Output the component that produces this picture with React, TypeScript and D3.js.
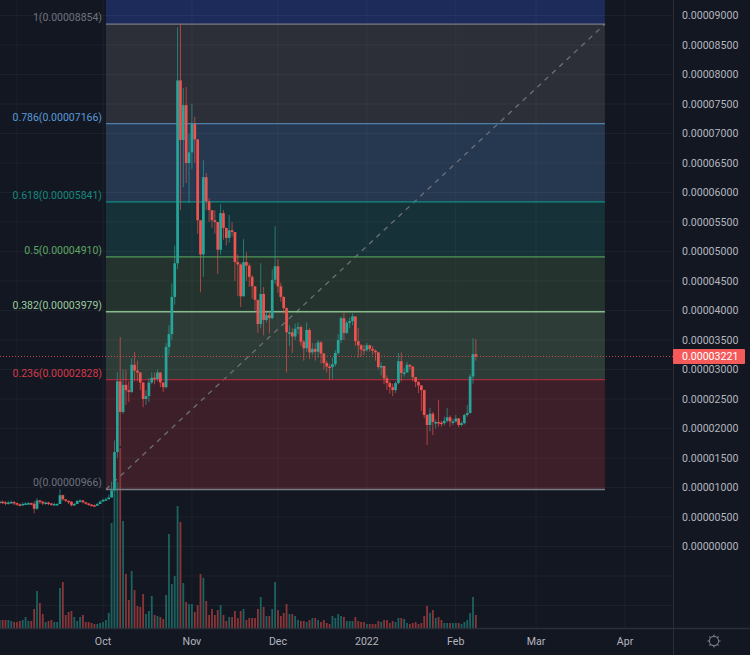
import React from 'react';
import * as d3 from 'd3';

// prices are in units of 0.00000001, one entry per day from firstDay
const firstDay = new Date(2021, 7, 26);
const closes = [
  760, 750, 730, 745, 755, 735, 715, 700, 720, 730,
  735, 725, 640, 780, 760, 730, 745, 730, 715, 720,
  720, 870, 800, 775, 760, 700, 720, 770, 780, 750,
  730, 710, 700, 690, 720, 760, 790, 800, 830, 950,
  1600, 2800, 2280, 2740, 2650, 2620, 3080, 2980, 2950, 2780,
  2500, 2550, 2780, 2860, 2840, 2950, 2780, 2700, 3380, 3600,
  4230, 4800, 7900, 6890, 7480, 6500, 6680, 7160, 6900, 5530,
  4950, 6260, 5850, 5700, 5530, 5500, 5030, 5650, 5400, 5230,
  5360, 5330, 4820, 4780, 4240, 4820, 4760, 4570, 4410, 4180,
  3770, 4280, 3840, 3920, 3870, 4520, 4750, 4410, 4230, 4040,
  3630, 3630, 3560, 3690, 3720, 3470, 3360, 3670, 3290, 3350,
  3300, 3460, 3270, 3110, 3050, 3040, 3090, 3280, 3500, 3870,
  3620, 3790, 3820, 3900, 3480, 3410, 3340, 3330, 3410, 3350,
  3320, 3290, 3040, 3060, 2850, 2770, 2700, 2650, 2770, 3140,
  2940, 2950, 3080, 3050, 2870, 2790, 2730, 2650, 2230, 2060,
  2250, 2110, 2110, 2100, 2090, 2130, 2190, 2120, 2120, 2170,
  2060, 2090, 2230, 2260, 2880, 3260, 3221,
];
const highs = [
  790, 780, 770, 770, 780, 770, 745, 730, 750, 750,
  755, 745, 770, 820, 790, 770, 760, 760, 735, 745,
  735, 970, 880, 800, 780, 765, 740, 790, 800, 790,
  750, 730, 720, 710, 740, 780, 810, 830, 880, 1100,
  1800, 2950, 3550, 3000, 3000, 2800, 3190, 3300, 3150, 2950,
  2780, 2650, 2850, 2950, 2950, 3000, 2950, 2780, 3450, 3750,
  4460, 5100, 8800, 8854, 7770, 7790, 7000, 7500, 7280, 6900,
  5300, 6550, 6330, 5900, 5650, 5700, 5500, 5800, 5700, 5400,
  5620, 5500, 5330, 4950, 4800, 5210, 4990, 4800, 4600, 4400,
  4180, 4800, 4400, 4000, 4000, 4700, 5430, 4870, 4470, 4240,
  4050, 3750, 3700, 3780, 3800, 3750, 3500, 3800, 3700, 3450,
  3450, 3500, 3480, 3280, 3150, 3100, 3200, 3330, 3600, 3900,
  3970, 3830, 3880, 3950, 3900, 3700, 3430, 3420, 3450, 3420,
  3400, 3340, 3300, 3120, 3060, 2900, 2800, 2760, 2800, 3280,
  3290, 3020, 3130, 3080, 3060, 2870, 2800, 2730, 2660, 2240,
  2350, 2280, 2150, 2480, 2130, 2200, 2350, 2220, 2160, 2230,
  2180, 2120, 2250, 2400, 2920, 3530, 3520,
];
const lows = [
  730, 720, 700, 710, 720, 700, 690, 680, 700, 700,
  710, 700, 560, 620, 720, 700, 710, 700, 690, 700,
  700, 720, 770, 750, 720, 680, 690, 750, 750, 730,
  710, 690, 680, 680, 700, 740, 770, 780, 800, 900,
  950, 1500, 1700, 2250, 2400, 2450, 2600, 2800, 2800, 2650,
  2360, 2400, 2450, 2750, 2750, 2800, 2700, 2620, 2680, 3250,
  3500, 4100, 4700, 5700, 6090, 6160, 5820, 6400, 6500, 5300,
  4310, 4570, 5700, 5500, 5400, 5300, 4620, 4950, 5200, 5100,
  5150, 5250, 4500, 4250, 4060, 4240, 4500, 4400, 4200, 4000,
  3620, 3700, 3580, 3800, 3610, 3850, 4450, 4300, 4150, 3950,
  2950, 3400, 3280, 3500, 3600, 3400, 3150, 3300, 3180, 3250,
  3150, 3200, 3100, 3000, 2950, 2820, 2840, 3050, 3250, 3450,
  3500, 3600, 3700, 3750, 3400, 3200, 3220, 3250, 3300, 3300,
  3250, 3150, 3000, 2900, 2750, 2650, 2590, 2550, 2600, 2750,
  2800, 2880, 2950, 3000, 2800, 2700, 2600, 2300, 2180, 1720,
  1950, 1890, 2000, 2030, 2030, 2050, 2100, 2030, 2060, 2100,
  2020, 2040, 2070, 2200, 2750, 2760, 3150,
];
const volumes = [
  8, 8, 8, 8, 7, 6, 6, 7, 8, 11,
  7, 7, 19, 37, 25, 14, 6, 7, 8, 6,
  6, 40, 46, 13, 16, 17, 11, 7, 11, 13,
  6, 6, 5, 4, 4, 5, 6, 8, 15, 105,
  165, 146, 180, 107, 54, 28, 57, 38, 22, 21,
  34, 14, 17, 32, 13, 12, 11, 9, 33, 94,
  44, 52, 122, 106, 45, 26, 24, 24, 16, 23,
  54, 50, 27, 13, 19, 13, 18, 23, 13, 7,
  11, 11, 17, 10, 17, 19, 8, 10, 10, 10,
  19, 31, 21, 12, 12, 19, 46, 18, 12, 15,
  24, 14, 14, 12, 8, 7, 7, 6, 8, 10,
  10, 8, 6, 8, 5, 4, 12, 10, 14, 12,
  11, 7, 7, 7, 11, 7, 6, 6, 4, 4,
  4, 4, 7, 6, 8, 8, 5, 7, 6, 10,
  10, 9, 5, 4, 5, 6, 4, 5, 12, 22,
  15, 18, 10, 11, 8, 5, 5, 5, 5, 5,
  5, 4, 6, 8, 15, 31, 13,
];
const firstOpen = 750;
const lastPrice = 3221;

const fibRatios = [1, 0.786, 0.618, 0.5, 0.382, 0.236, 0];
const fibPrices = [8854, 7166, 5841, 4910, 3979, 2828, 966];
const fibLineColors = ['#787b86', '#4f7fa8', '#0f8f84', '#4f9a58', '#86bd8c', '#a52a3a', '#787b86'];
const fibTextColors = ['#6f727c', '#5a9bd8', '#128a7e', '#5fa765', '#9ccc9f', '#d63a4a', '#6f727c'];
const fibFills = ['#2c2f37', '#263750', '#163238', '#24332d', '#2e3c37', '#3d1f29'];
const fibStart = new Date(2021, 9, 2);
const fibEnd = new Date(2022, 2, 25);

const priceTicks = d3.range(0, 9001, 500);
const gridOnlyTicks = [-500, -1000];
const gridDates = [new Date(2021, 8, 1), new Date(2021, 9, 1), new Date(2021, 10, 1), new Date(2021, 11, 1), new Date(2022, 0, 1), new Date(2022, 1, 1), new Date(2022, 2, 1), new Date(2022, 3, 1)];
const timeLabels = ['', 'Oct', 'Nov', 'Dec', '2022', 'Feb', 'Mar', 'Apr'];

const WIDTH = 750;
const HEIGHT = 655;
const PLOT_RIGHT = 673;
const PLOT_BOTTOM = 628;
const FONT = 'Roboto, sans-serif';
const UP = '#26a69a';
const DOWN = '#ef5350';

const x = d3.scaleTime()
  .domain([new Date(2021, 9, 1), new Date(2022, 3, 1)])
  .range([103, 625]);
const y = d3.scaleLinear().domain([0, 9000]).range([546.5, 15.5]);
const yVolume = d3.scaleLinear().domain([0, 180]).range([PLOT_BOTTOM, PLOT_BOTTOM - 180]);

const fmt = (v: number) => (v / 1e8).toFixed(8);

const candles = closes.map((close, i) => ({
  date: d3.timeDay.offset(firstDay, i),
  open: i === 0 ? firstOpen : closes[i - 1],
  close,
  high: highs[i],
  low: lows[i],
  volume: volumes[i],
}));

const sunRays = d3.range(0, 360, 45);

export default function App() {
  const fibX0 = x(fibStart);
  const fibX1 = x(fibEnd);

  return (
    <div style={{ position: 'absolute', left: 0, top: 0 }}>
      <svg width={WIDTH} height={HEIGHT} style={{ display: 'block', background: '#131722' }} fontFamily={FONT}>
        {/* Fib bands */}
        <rect x={fibX0} y={0} width={fibX1 - fibX0} height={y(fibPrices[0])} fill="#1c2b5a" />
        {fibFills.map((fill, i) => (
          <rect
            key={i}
            x={fibX0}
            y={y(fibPrices[i])}
            width={fibX1 - fibX0}
            height={y(fibPrices[i + 1]) - y(fibPrices[i])}
            fill={fill}
          />
        ))}

        {/* Grid */}
        {[...priceTicks, ...gridOnlyTicks].map((t) => (
          <line key={t} x1={0} x2={PLOT_RIGHT} y1={y(t)} y2={y(t)} stroke="#fff" strokeOpacity={0.04} />
        ))}
        {gridDates.map((d, i) => (
          <line key={i} x1={x(d)} x2={x(d)} y1={0} y2={PLOT_BOTTOM} stroke="#fff" strokeOpacity={0.04} />
        ))}

        {/* Volume */}
        {candles.map((c, i) => (
          <rect
            key={i}
            x={x(c.date) - 0.9}
            y={yVolume(c.volume)}
            width={1.8}
            height={PLOT_BOTTOM - yVolume(c.volume)}
            fill={c.close >= c.open ? '#1c625f' : '#8a3638'}
          />
        ))}

        {/* Fib lines and labels */}
        <line
          x1={fibX0}
          x2={fibX1}
          y1={y(fibPrices[6])}
          y2={y(fibPrices[0])}
          stroke="#6d7078"
          strokeWidth={1.3}
          strokeDasharray="5 5"
        />
        {fibRatios.map((r, i) => (
          <g key={r}>
            <line
              x1={fibX0}
              x2={fibX1}
              y1={y(fibPrices[i])}
              y2={y(fibPrices[i])}
              stroke={fibLineColors[i]}
              strokeWidth={1.3}
            />
            <text
              x={102}
              y={y(fibPrices[i]) - 1}
              dy="-0.2em"
              textAnchor="end"
              fontSize={10.5}
              fill={fibTextColors[i]}
            >
              {`${r}(${fmt(fibPrices[i])})`}
            </text>
          </g>
        ))}

        {/* Candles */}
        {candles.map((c, i) => {
          const color = c.close >= c.open ? UP : DOWN;
          const top = y(Math.max(c.open, c.close));
          const bottom = y(Math.min(c.open, c.close));
          return (
            <g key={i}>
              <line x1={x(c.date)} x2={x(c.date)} y1={y(c.high)} y2={y(c.low)} stroke={color} strokeOpacity={0.65} />
              <rect x={x(c.date) - 1.35} y={top} width={2.7} height={Math.max(bottom - top, 1.5)} fill={color} />
            </g>
          );
        })}

        {/* Last price line */}
        <line
          x1={0}
          x2={PLOT_RIGHT}
          y1={y(lastPrice)}
          y2={y(lastPrice)}
          stroke="#ef5350"
          strokeDasharray="1 2"
          strokeOpacity={0.8}
        />

        {/* Axes */}
        <rect x={PLOT_RIGHT} y={0} width={WIDTH - PLOT_RIGHT} height={HEIGHT} fill="#131722" />
        <rect x={0} y={PLOT_BOTTOM} width={PLOT_RIGHT} height={HEIGHT - PLOT_BOTTOM} fill="#131722" />
        <line x1={PLOT_RIGHT + 0.5} x2={PLOT_RIGHT + 0.5} y1={0} y2={HEIGHT} stroke="#2a2e39" />
        <line x1={0} x2={WIDTH} y1={PLOT_BOTTOM + 0.5} y2={PLOT_BOTTOM + 0.5} stroke="#2a2e39" strokeWidth={1.5} />

        {priceTicks.map((t) => (
          <text key={t} x={682} y={y(t)} dy="0.35em" fontSize={10.6} fill="#b2b5be">
            {fmt(t)}
          </text>
        ))}
        <rect x={PLOT_RIGHT} y={y(lastPrice) - 7.5} width={72} height={15} rx={1} fill="#f55a5a" />
        <text x={682} y={y(lastPrice)} dy="0.35em" fontSize={10.6} fill="#fff">
          {fmt(lastPrice)}
        </text>

        {gridDates.map((d, i) =>
          timeLabels[i] ? (
            <text key={i} x={x(d)} y={641} dy="0.35em" textAnchor="middle" fontSize={10.6} fill="#b2b5be">
              {timeLabels[i]}
            </text>
          ) : null
        )}

        {/* Settings icon */}
        <g transform="translate(714,641)" stroke="#787b86" fill="none">
          <circle r={4.6} strokeWidth={1.1} />
          {sunRays.map((a) => (
            <line key={a} x1={0} x2={0} y1={-4.6} y2={-6.6} transform={`rotate(${a})`} strokeWidth={1.1} />
          ))}
        </g>
      </svg>
    </div>
  );
}
